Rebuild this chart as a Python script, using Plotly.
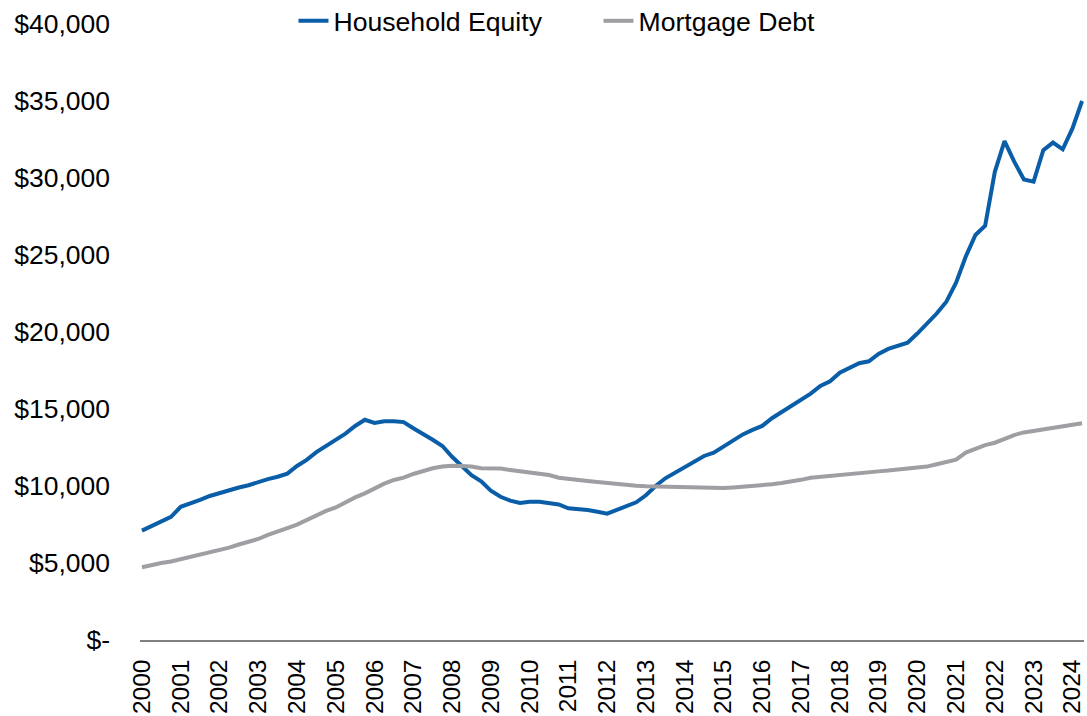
import plotly.graph_objects as go

years = [str(y) for y in range(2000, 2025)]
# quarterly, 2000Q1 .. 2024Q2 (in $ billions)
household_equity = [
    7100, 7400, 7700, 8000, 8650, 8850, 9100, 9350,
    9550, 9750, 9900, 10050, 10280, 10450, 10600, 10800,
    11300, 11700, 12200, 12600, 13000, 13400, 13900, 14300,
    14100, 14200, 14200, 14150, 13750, 13400, 13000, 12600,
    11900, 11300, 10700, 10300, 9700, 9300, 9050, 8900,
    8980, 8980, 8920, 8800, 8550, 8500, 8440, 8330,
    8200, 8450, 8700, 8940, 9400, 10000, 10500, 10860,
    11200, 11600, 11950, 12160, 12550, 12940, 13350, 13640,
    13900, 14400, 14800, 15200, 15560, 16000, 16500, 16800,
    17360, 17700, 17970, 18100, 18570, 18900, 19100, 19300,
    19900, 20560, 21200, 21970, 23200, 24900, 26300, 26900,
    30400, 32400, 31060, 29900, 29760, 31800, 32300, 31860,
    33200, 35000,
]
mortgage_debt = [
    4720, 4870, 5000, 5100, 5240, 5390, 5560, 5690,
    5820, 6000, 6200, 6380, 6560, 6820, 7080, 7270,
    7490, 7800, 8100, 8380, 8610, 8960, 9260, 9520,
    9850, 10150, 10390, 10540, 10780, 10970, 11150, 11260,
    11320, 11300, 11260, 11150, 11150, 11130, 11040, 10970,
    10870, 10780, 10710, 10540, 10450, 10390, 10320, 10260,
    10190, 10130, 10090, 10020, 9980, 9960, 9940, 9910,
    9890, 9870, 9890, 9890, 9870, 9910, 9960, 10020,
    10020, 10110, 10190, 10280, 10400, 10540, 10600, 10670,
    10740, 10820, 10890, 10930, 10950, 11000, 11080, 11150,
    11200, 11260, 11410, 11560, 11710, 12170, 12430, 12660,
    12810, 13070, 13310, 13480, 13570, 13660, 13790, 13900,
    13940, 14070,
]
y_ticks = [0, 5000, 10000, 15000, 20000, 25000, 30000, 35000, 40000]
y_labels = ["$-", "$5,000", "$10,000", "$15,000", "$20,000",
            "$25,000", "$30,000", "$35,000", "$40,000"]

idx = list(range(len(household_equity)))
font = "Liberation Sans, Arial, sans-serif"

fig = go.Figure()
fig.add_trace(go.Scatter(x=idx, y=household_equity, mode="lines",
                         name="Household Equity",
                         line=dict(color="#0A5EA8", width=4)))
fig.add_trace(go.Scatter(x=idx, y=mortgage_debt, mode="lines",
                         name="Mortgage Debt",
                         line=dict(color="#9E9EA3", width=4)))

fig.update_layout(
    width=1087, height=716,
    margin=dict(l=140, r=3, t=24, b=76, autoexpand=False),
    paper_bgcolor="white", plot_bgcolor="white",
    font=dict(family=font, size=25, color="#000000"),
    showlegend=True,
    legend=dict(orientation="h", xref="container", yref="paper",
                x=0.270, y=1.0438, xanchor="left", yanchor="top",
                font=dict(size=26.6), bgcolor="rgba(0,0,0,0)",
                entrywidth=260, tracegroupgap=0),
)
fig.update_xaxes(
    range=[-0.2, 97.2],
    tickmode="array",
    tickvals=[i * 4 for i in range(len(years))],
    ticktext=years,
    tickangle=-90,
    tickfont=dict(size=24.5),
    showgrid=False, zeroline=False, automargin=False,
    showline=True, linecolor="#808080", linewidth=1.5,
    ticks="", ticklabelstandoff=8,
)
fig.update_yaxes(
    range=[0, 40000],
    tickmode="array", tickvals=y_ticks, ticktext=y_labels,
    tickfont=dict(size=26.5),
    showgrid=False, zeroline=False, showline=False, automargin=False,
    ticks="", ticklabelstandoff=29,
)

fig.write_html("out.html",
               config={"displayModeBar": False},
               post_script="document.body.style.margin='0';"
                           "document.body.style.overflow='hidden';")
